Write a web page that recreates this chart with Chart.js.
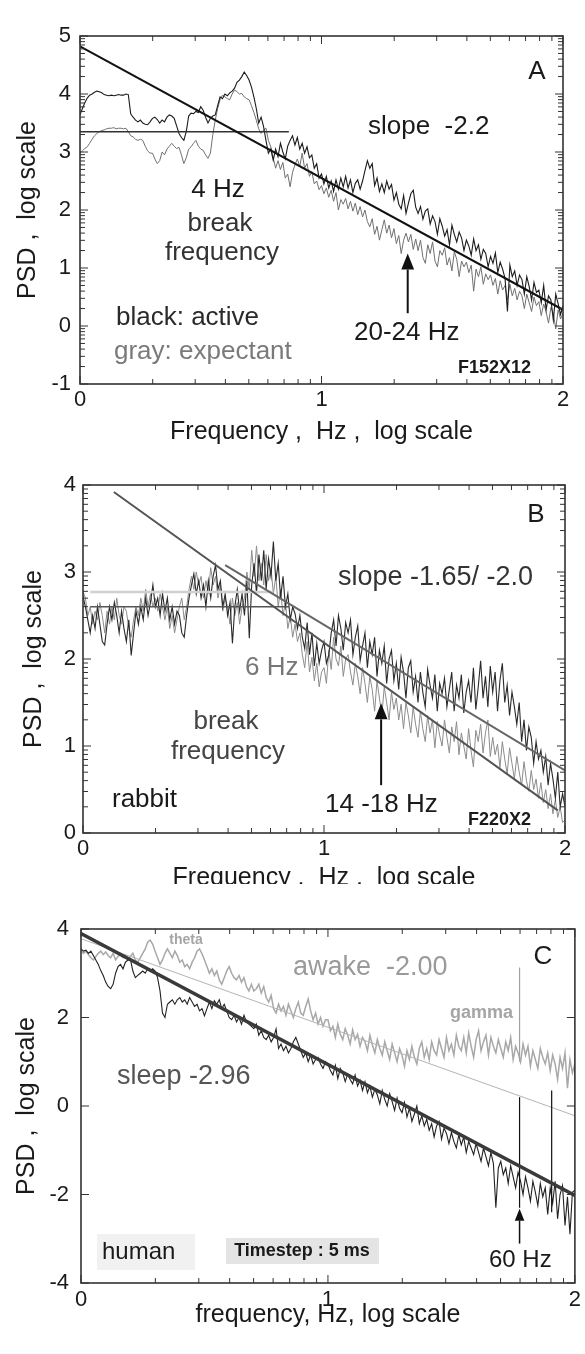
<!DOCTYPE html>
<html>
<head>
<meta charset="utf-8">
<script src="https://cdn.jsdelivr.net/npm/chart.js@4.4.1/dist/chart.umd.min.js"></script>
<style>
  body { margin: 0; background: #fff; }
  #wrap { position: relative; width: 585px; height: 1354px; background: #fff; }
  canvas { position: absolute; left: 0; }
</style>
</head>
<body>
<div id="wrap">
  <canvas id="panelA" width="585" height="450" style="top:0"></canvas>
  <canvas id="panelB" width="585" height="450" style="top:450px"></canvas>
  <canvas id="panelC" width="585" height="454" style="top:900px"></canvas>
</div>
<script>
// frequency grid (log10 Hz), shared by all three panels
const freq = [
  0.00,0.01,0.02,0.03,0.04,0.05,0.06,0.07,0.08,0.09,
  0.10,0.11,0.12,0.13,0.14,0.15,0.16,0.17,0.18,0.19,
  0.20,0.21,0.22,0.23,0.24,0.25,0.26,0.27,0.28,0.29,
  0.30,0.31,0.32,0.33,0.34,0.35,0.36,0.37,0.38,0.39,
  0.40,0.41,0.42,0.43,0.44,0.45,0.46,0.47,0.48,0.49,
  0.50,0.51,0.52,0.53,0.54,0.55,0.56,0.57,0.58,0.59,
  0.60,0.61,0.62,0.63,0.64,0.65,0.66,0.67,0.68,0.69,
  0.70,0.71,0.72,0.73,0.74,0.75,0.76,0.77,0.78,0.79,
  0.80,0.81,0.82,0.83,0.84,0.85,0.86,0.87,0.88,0.89,
  0.90,0.91,0.92,0.93,0.94,0.95,0.96,0.97,0.98,0.99,
  1.00,1.01,1.02,1.03,1.04,1.05,1.06,1.07,1.08,1.09,
  1.10,1.11,1.12,1.13,1.14,1.15,1.16,1.17,1.18,1.19,
  1.20,1.21,1.22,1.23,1.24,1.25,1.26,1.27,1.28,1.29,
  1.30,1.31,1.32,1.33,1.34,1.35,1.36,1.37,1.38,1.39,
  1.40,1.41,1.42,1.43,1.44,1.45,1.46,1.47,1.48,1.49,
  1.50,1.51,1.52,1.53,1.54,1.55,1.56,1.57,1.58,1.59,
  1.60,1.61,1.62,1.63,1.64,1.65,1.66,1.67,1.68,1.69,
  1.70,1.71,1.72,1.73,1.74,1.75,1.76,1.77,1.78,1.79,
  1.80,1.81,1.82,1.83,1.84,1.85,1.86,1.87,1.88,1.89,
  1.90,1.91,1.92,1.93,1.94,1.95,1.96,1.97,1.98,1.99,
  2.00
];

// panel A - black: active, gray: expectant
const activeA = [
  3.64,3.75,3.85,3.93,3.98,4.00,4.03,4.05,4.04,4.02,
  3.99,3.98,3.97,3.98,3.97,3.98,3.99,3.98,3.98,4.00,
  3.99,3.66,3.60,3.55,3.52,3.55,3.50,3.48,3.47,3.52,
  3.58,3.60,3.56,3.50,3.55,3.52,3.60,3.64,3.62,3.58,
  3.45,3.32,3.25,3.20,3.35,3.62,3.67,3.66,3.70,3.68,
  3.78,3.72,3.60,3.50,3.58,3.62,3.64,3.80,3.95,3.92,
  4.00,3.97,4.02,4.05,4.10,4.20,4.24,4.30,4.38,4.32,
  4.24,4.12,3.95,3.75,3.50,3.60,3.44,3.20,2.98,3.05,
  2.86,3.05,2.92,3.15,3.00,2.88,3.10,3.20,3.28,3.12,
  3.25,3.05,3.15,2.98,3.09,2.90,2.95,2.72,2.80,2.55,
  2.62,2.45,2.58,2.38,2.50,2.32,2.52,2.36,2.55,2.40,
  2.58,2.38,2.52,2.30,2.46,2.52,2.36,2.50,2.68,2.85,
  2.72,2.80,2.42,2.55,2.32,2.45,2.30,2.50,2.36,2.44,
  2.17,2.30,2.10,2.02,2.25,1.94,2.12,2.28,2.34,2.05,
  1.94,2.06,1.84,1.98,2.02,1.76,1.90,1.80,1.58,1.85,
  1.72,1.55,1.66,1.40,1.74,1.58,1.45,1.62,1.52,1.30,
  1.48,1.38,1.22,1.50,1.30,1.40,1.15,1.32,1.25,1.02,
  1.20,1.08,1.26,0.92,1.10,0.98,0.82,0.25,1.05,0.85,
  0.95,0.70,0.88,0.80,0.55,0.85,0.68,0.45,0.75,0.58,
  0.62,0.40,0.70,0.28,0.52,0.45,0.10,0.55,0.38,0.20,
  0.35
];
const expectantA = [
  2.98,3.02,3.06,3.09,3.15,3.22,3.28,3.32,3.35,3.37,
  3.38,3.40,3.41,3.41,3.42,3.40,3.41,3.41,3.40,3.41,
  3.35,3.28,3.26,3.22,3.20,3.22,3.20,3.10,3.02,2.98,
  2.98,2.88,2.80,2.85,3.00,2.95,3.05,3.10,3.15,3.10,
  3.06,3.08,2.95,2.80,2.90,3.05,3.09,3.15,3.20,3.10,
  3.05,3.03,2.95,2.89,2.98,3.30,3.55,3.75,3.90,3.98,
  3.95,3.92,3.90,4.00,4.07,4.04,4.00,4.01,3.95,3.92,
  3.90,3.80,3.68,3.55,3.40,3.32,3.38,3.41,3.20,3.09,
  2.90,2.72,2.85,2.70,2.82,2.55,2.62,2.40,2.65,2.78,
  2.88,2.75,2.98,2.72,2.80,2.58,2.66,2.45,2.50,2.35,
  2.42,2.28,2.38,2.22,2.34,2.15,2.30,2.00,2.18,2.10,
  2.20,2.02,2.15,1.98,2.12,1.92,2.06,1.88,2.00,1.80,
  1.71,1.85,1.58,1.72,1.48,1.66,1.83,1.60,1.74,1.52,
  1.68,1.42,1.56,1.25,1.48,1.60,1.45,1.58,1.32,1.50,
  1.30,1.48,1.18,1.08,1.40,1.25,1.45,1.12,1.02,1.30,
  1.22,1.35,1.05,1.18,0.95,1.28,1.15,0.85,1.12,1.02,
  1.10,0.92,1.05,0.60,0.98,0.85,1.02,0.72,0.90,0.80,
  0.88,0.70,0.82,0.55,0.78,0.62,0.70,0.45,0.72,0.52,
  0.65,0.45,0.60,0.52,0.30,0.55,0.40,0.25,0.50,0.35,
  0.42,0.18,0.38,0.25,0.05,0.32,0.22,-0.05,0.28,0.12,
  0.22
];
const fitAx = [0, 2];
const fitAy = [4.82, 0.28];
const breakAx = [0, 0.865];
const breakAy = [3.35, 3.35];

// panel B - rabbit
const darkB = [
  2.72,2.60,2.45,2.30,2.50,2.35,2.60,2.40,2.20,2.16,
  2.40,2.60,2.45,2.65,2.50,2.30,2.55,2.35,2.20,2.45,
  2.04,2.30,2.55,2.40,2.60,2.45,2.70,2.50,2.65,2.85,
  2.60,2.70,2.50,2.75,2.55,2.70,2.45,2.60,2.40,2.55,
  2.50,2.30,2.25,2.50,2.70,2.85,2.98,2.75,2.90,2.70,
  2.85,2.60,2.90,2.70,2.95,3.08,2.80,2.90,2.60,2.75,
  2.50,2.65,2.18,2.60,2.80,2.55,2.75,2.50,2.90,2.24,
  2.85,3.10,2.75,3.20,2.90,3.25,2.80,3.15,2.95,3.35,
  2.90,3.10,2.70,2.95,2.60,2.75,2.45,2.60,2.52,2.35,
  2.50,2.25,2.12,2.42,2.05,2.30,1.92,2.18,1.95,2.10,
  2.20,1.95,2.05,2.30,2.45,2.15,2.50,2.35,2.10,2.42,
  2.30,2.45,2.05,2.25,2.38,1.98,2.15,2.30,1.90,2.20,
  2.05,2.25,1.80,2.10,1.95,2.15,1.72,2.00,2.10,1.75,
  1.95,1.65,2.02,1.85,1.55,1.90,1.98,1.62,1.80,1.50,
  1.85,1.62,1.45,1.88,1.70,1.55,1.82,1.40,1.72,1.60,
  1.78,1.45,1.65,1.85,1.40,1.70,1.55,1.82,1.38,1.62,
  1.75,1.50,1.90,1.42,1.68,1.98,1.55,1.80,1.45,1.92,
  1.62,1.85,1.40,1.75,1.95,1.50,1.70,1.35,1.62,1.45,
  1.25,1.50,1.05,1.30,0.95,1.22,1.10,0.80,1.05,0.85,
  0.95,0.70,0.88,0.55,0.80,0.62,0.40,0.70,0.30,0.45,
  0.30
];
const grayB = [
  2.78,2.70,2.50,2.60,2.40,2.55,2.45,2.65,2.50,2.30,
  2.55,2.40,2.60,2.45,2.70,2.50,2.40,2.60,2.55,2.35,
  2.25,2.45,2.60,2.50,2.70,2.55,2.80,2.60,2.75,2.60,
  2.70,2.55,2.75,2.60,2.45,2.60,2.35,2.50,2.30,2.45,
  2.60,2.70,2.45,2.60,2.80,2.95,2.80,3.00,2.85,2.95,
  2.70,2.90,2.75,3.05,2.85,2.95,2.70,2.85,2.55,2.70,
  2.60,2.40,2.70,2.50,2.65,2.40,2.60,2.70,3.00,2.80,
  3.25,2.95,3.30,2.90,3.10,2.85,3.20,2.90,3.05,2.75,
  2.95,2.60,2.80,2.50,2.65,2.35,2.50,2.25,2.40,2.20,
  2.30,2.05,1.90,2.20,1.85,2.02,1.75,1.95,1.68,1.85,
  1.90,1.72,2.10,1.88,2.25,2.00,1.92,2.15,1.80,2.00,
  2.05,1.85,1.70,1.95,1.80,1.60,1.90,1.72,1.50,1.80,
  1.65,1.40,1.75,1.55,1.35,1.68,1.50,1.30,1.62,1.42,
  1.55,1.30,1.48,1.20,1.50,1.35,1.15,1.45,1.25,1.10,
  1.40,1.20,1.05,1.35,1.15,1.30,0.98,1.28,1.12,1.00,
  1.30,1.10,0.92,1.22,1.05,1.28,0.90,1.15,1.00,0.85,
  1.20,0.95,0.76,1.18,1.05,1.25,0.92,1.15,1.30,0.88,
  1.10,0.90,1.02,0.75,1.05,0.85,0.68,0.98,0.80,0.62,
  0.88,0.70,0.55,0.82,0.60,0.48,0.72,0.50,0.62,0.40,
  0.58,0.35,0.50,0.28,0.45,0.22,0.38,0.18,0.30,0.12,
  0.15
];
const steepBx = [0.128, 1.97];
const steepBy = [3.92, 0.26];
const shallowBx = [0.59, 2.0];
const shallowBy = [3.08, 0.72];
const breakBx = [0.03, 0.855];
const breakBy = [2.6, 2.6];
const faintBx = [0.03, 0.79];
const faintBy = [2.77, 2.77];

// panel C - human, awake vs sleep
const awakeC = [
  3.51,3.45,3.50,3.42,3.35,3.30,3.38,3.45,3.50,3.42,
  3.48,3.40,3.35,3.45,3.30,3.38,3.42,3.35,3.40,3.30,
  3.38,3.45,3.30,3.25,3.35,3.45,3.55,3.70,3.75,3.66,
  3.50,3.35,3.20,3.30,3.45,3.55,3.45,3.35,3.50,3.40,
  3.25,3.30,3.15,3.20,3.10,3.25,3.35,3.50,3.55,3.44,
  3.30,3.15,3.00,3.10,2.95,3.05,2.85,2.75,2.90,3.05,
  3.15,3.00,2.90,2.85,2.95,2.80,2.90,2.70,2.60,2.75,
  2.60,2.65,2.75,2.55,2.70,2.45,2.35,2.50,2.20,2.10,
  2.30,2.15,2.25,2.05,2.30,2.15,2.00,2.20,2.35,2.10,
  2.05,2.25,2.42,2.15,1.95,2.10,1.85,2.00,1.80,1.95,
  1.95,1.70,1.80,1.55,1.85,1.62,1.50,1.75,1.60,1.40,
  1.72,1.50,1.62,1.35,1.55,1.45,1.25,1.60,1.38,1.20,
  1.50,1.30,1.15,1.45,1.25,1.05,1.40,1.20,1.00,1.30,
  1.15,0.90,1.25,1.05,1.35,1.10,0.95,1.30,1.45,1.10,
  1.30,1.05,1.45,1.25,1.15,1.50,1.30,1.10,1.55,1.25,
  1.40,1.15,1.60,1.35,1.25,1.55,1.20,1.65,1.35,1.10,
  1.50,1.70,1.25,1.45,1.60,1.15,1.55,1.35,1.20,1.50,
  1.30,1.10,1.45,1.25,1.55,1.05,1.35,1.20,1.00,1.40,
  1.15,1.35,0.90,1.25,1.05,0.85,1.30,1.10,0.95,1.20,
  0.80,1.15,0.95,0.60,1.10,0.85,1.20,0.40,1.05,0.75,
  0.95
];
const sleepC = [
  3.55,3.50,3.52,3.45,3.50,3.40,3.30,3.20,3.06,2.95,
  2.80,2.70,2.65,2.75,3.00,3.15,3.20,3.10,3.25,3.30,
  3.32,3.05,2.90,2.95,3.00,3.05,3.00,3.10,3.05,3.10,
  3.05,2.90,2.60,2.10,2.00,2.30,2.35,2.40,2.30,2.40,
  2.45,2.35,2.40,2.30,2.45,2.35,2.25,2.30,2.15,2.20,
  2.04,2.20,2.35,2.20,2.38,2.30,2.40,2.20,2.30,2.15,
  2.00,1.95,2.05,1.90,2.00,1.85,2.05,1.90,1.85,1.80,
  1.75,1.85,1.60,1.70,1.55,1.50,1.60,1.45,1.55,1.74,
  1.30,1.40,1.25,1.35,1.20,1.30,1.45,1.55,1.40,1.25,
  1.10,1.20,1.00,1.15,0.95,1.05,1.10,0.95,0.85,1.00,
  0.95,0.80,0.70,0.92,0.62,0.85,0.75,0.55,0.72,0.60,
  0.50,0.70,0.45,0.58,0.35,0.55,0.30,0.45,0.20,0.38,
  0.25,0.05,0.35,0.15,0.00,0.28,0.10,-0.10,0.18,-0.05,
  -0.15,0.08,-0.25,-0.05,-0.35,-0.18,0.00,-0.40,-0.22,-0.45,
  -0.30,-0.55,-0.40,-0.70,-0.45,-0.35,-0.75,-0.50,-0.62,-0.85,
  -0.60,-0.80,-0.95,-0.65,-0.88,-0.70,-1.05,-0.80,-0.95,-1.10,
  -0.85,-1.05,-1.25,-0.95,-1.15,-1.35,-1.05,-1.30,-2.30,-1.40,
  -1.25,-1.55,-1.40,-1.75,-1.35,-1.60,-1.85,-1.50,-1.70,-2.00,
  -1.60,-1.85,-2.15,-1.70,-1.95,-2.25,-1.75,-2.05,-1.85,-2.45,
  -1.85,-2.20,-1.70,-2.55,-2.00,-1.80,-2.70,-2.05,-2.90,-1.95,
  -1.90
];
const sleepFitX = [0, 2];
const sleepFitY = [3.9, -2.02];
const awakeFitX = [0, 2];
const awakeFitY = [3.78, -0.22];
const gammaSpikeX = [1.776, 1.776];
const gammaSpikeY = [1.0, 3.13];
const lineSpikeX = [1.776, 1.776];
const lineSpikeY = [-2.3, 0.2];
const lineSpike2X = [1.906, 1.906];
const lineSpike2Y = [-2.4, 0.35];

// log-decade subdivisions used for the inner tick marks
const logSteps = [0.301, 0.477, 0.602, 0.699, 0.778, 0.845, 0.903, 0.954];

const FONT = "'Liberation Sans', Arial, sans-serif";

function pts(xs, ys) {
  return xs.map(function(v, i) { return {x: v, y: ys[i]}; });
}
function series(xs, ys, color, width) {
  return {data: pts(xs, ys), borderColor: color, borderWidth: width, pointRadius: 0, fill: false, tension: 0};
}

// box frame + inward ticks on four sides
const frameTicks = {
  id: 'frameTicks',
  afterDatasetsDraw(chart, args, opts) {
    const ctx = chart.ctx;
    const a = chart.chartArea;
    const sx = chart.scales.x, sy = chart.scales.y;
    ctx.save();
    ctx.strokeStyle = '#333';
    ctx.lineWidth = 1;
    (opts.xTicks || []).forEach(function(t) {
      const px = sx.getPixelForValue(t.v);
      ctx.beginPath();
      ctx.moveTo(px, a.bottom); ctx.lineTo(px, a.bottom - t.len);
      ctx.moveTo(px, a.top); ctx.lineTo(px, a.top + t.len);
      ctx.stroke();
    });
    (opts.yTicks || []).forEach(function(t) {
      const py = sy.getPixelForValue(t.v);
      ctx.beginPath();
      ctx.moveTo(a.left, py); ctx.lineTo(a.left + t.len, py);
      ctx.moveTo(a.right, py); ctx.lineTo(a.right - t.len, py);
      ctx.stroke();
    });
    ctx.lineWidth = 1.6;
    ctx.strokeRect(a.left, a.top, a.right - a.left, a.bottom - a.top);
    ctx.restore();
  }
};

// text labels, arrows and boxes
const notes = {
  id: 'notes',
  afterDraw(chart, args, opts) {
    const ctx = chart.ctx;
    const sx = chart.scales.x, sy = chart.scales.y;
    ctx.save();
    (opts.boxes || []).forEach(function(b) {
      ctx.fillStyle = b.color;
      ctx.fillRect(b.x, b.y, b.w, b.h);
    });
    (opts.texts || []).forEach(function(t) {
      ctx.font = t.font;
      ctx.fillStyle = t.color || '#1a1a1a';
      ctx.textAlign = t.align || 'left';
      ctx.textBaseline = 'middle';
      ctx.fillText(t.text, t.x, t.y);
    });
    (opts.arrows || []).forEach(function(ar) {
      const px = sx.getPixelForValue(ar.x);
      const y0 = sy.getPixelForValue(ar.from);
      const y1 = sy.getPixelForValue(ar.to);
      ctx.strokeStyle = '#111';
      ctx.fillStyle = '#111';
      ctx.lineWidth = ar.w || 2;
      ctx.beginPath();
      ctx.moveTo(px, y0); ctx.lineTo(px, y1 + ar.head);
      ctx.stroke();
      ctx.beginPath();
      ctx.moveTo(px, y1);
      ctx.lineTo(px - ar.head * 0.4, y1 + ar.head);
      ctx.lineTo(px + ar.head * 0.4, y1 + ar.head);
      ctx.closePath();
      ctx.fill();
    });
    ctx.restore();
  }
};

function tickList(lo, hi, withMinor, majorLen, minorLen, step) {
  let out = [];
  for (let v = lo; v <= hi; v += step) {
    out.push({v: v, len: majorLen});
    if (withMinor && v < hi) {
      logSteps.forEach(function(s) { out.push({v: v + s, len: minorLen}); });
    }
  }
  return out;
}

function makeChart(id, cfg) {
  return new Chart(document.getElementById(id), {
    type: 'line',
    data: {datasets: cfg.datasets},
    options: {
      responsive: false,
      animation: false,
      devicePixelRatio: 1,
      layout: {padding: {left: 0, top: cfg.top, right: cfg.right, bottom: 0}},
      plugins: {
        legend: {display: false},
        tooltip: {enabled: false},
        frameTicks: {xTicks: tickList(0, 2, true, 8, 5, 1), yTicks: cfg.yTicks},
        notes: cfg.notes
      },
      scales: {
        x: {
          type: 'linear', min: 0, max: 2,
          afterFit: function(s) { s.height = cfg.xHeight; },
          grid: {display: false, drawTicks: false},
          border: {display: false},
          ticks: {stepSize: 1, padding: cfg.xTickPad, color: '#1a1a1a', font: {family: FONT, size: 22}},
          title: {display: true, text: cfg.xTitle, color: '#1a1a1a', font: {family: FONT, size: 25}, padding: {top: 0, bottom: cfg.xTitlePad}}
        },
        y: {
          type: 'linear', min: cfg.yMin, max: cfg.yMax,
          afterFit: function(s) { s.width = cfg.yWidth; },
          grid: {display: false, drawTicks: false},
          border: {display: false},
          ticks: {stepSize: cfg.yStep, padding: cfg.yTickPad, color: '#1a1a1a', font: {family: FONT, size: 22}},
          title: {display: true, text: 'PSD ,  log scale', color: '#1a1a1a', font: {family: FONT, size: 25}, padding: {top: cfg.yTitlePad, bottom: 0}}
        }
      }
    },
    plugins: [frameTicks, notes]
  });
}

const big = '26px ' + FONT;

makeChart('panelA', {
  top: 36, right: 22, xHeight: 66, yWidth: 80,
  xTickPad: 3, xTitlePad: 3, yTickPad: 9, yTitlePad: 13,
  xTitle: 'Frequency ,  Hz ,  log scale',
  yMin: -1, yMax: 5, yStep: 1,
  yTicks: tickList(-1, 5, true, 8, 5, 1),
  datasets: [
    series(fitAx, fitAy, '#111', 2),
    series(breakAx, breakAy, '#333', 1.5),
    series(freq, activeA, '#1c1c1c', 1.1),
    series(freq, expectantA, '#707070', 1)
  ],
  notes: {
    texts: [
      {text: 'A', x: 537, y: 72, font: big, align: 'center'},
      {text: 'slope  -2.2', x: 368, y: 127, font: big},
      {text: '4 Hz', x: 218, y: 190, font: big, align: 'center'},
      {text: 'break', x: 220, y: 224, font: big, align: 'center', color: '#333'},
      {text: 'frequency', x: 222, y: 253, font: big, align: 'center', color: '#333'},
      {text: 'black: active', x: 116, y: 318, font: big, color: '#2a2a2a'},
      {text: 'gray: expectant', x: 114, y: 352, font: big, color: '#7a7a7a'},
      {text: '20-24 Hz', x: 354, y: 333, font: big},
      {text: 'F152X12', x: 458, y: 368, font: 'bold 18px ' + FONT}
    ],
    arrows: [{x: 1.357, from: 0.22, to: 1.25, head: 16}]
  }
});

makeChart('panelB', {
  top: 35, right: 20, xHeight: 67, yWidth: 83,
  xTickPad: 3, xTitlePad: 7, yTickPad: 7, yTitlePad: 19,
  xTitle: 'Frequency ,  Hz ,  log scale',
  yMin: 0, yMax: 4, yStep: 1,
  yTicks: tickList(0, 4, true, 8, 5, 1),
  datasets: [
    series(steepBx, steepBy, '#555', 2),
    series(shallowBx, shallowBy, '#666', 2),
    series(breakBx, breakBy, '#555', 1.6),
    series(faintBx, faintBy, '#d0d0d0', 2.5),
    series(freq, darkB, '#2a2a2a', 1.1),
    series(freq, grayB, '#8c8c8c', 1)
  ],
  notes: {
    boxes: [{x: 0, y: 434, w: 585, h: 16, color: '#fff'}],
    texts: [
      {text: 'B', x: 536, y: 65, font: big, align: 'center'},
      {text: 'slope -1.65/ -2.0', x: 338, y: 128, font: '27px ' + FONT, color: '#333'},
      {text: '6 Hz', x: 245, y: 218, font: big, color: '#777'},
      {text: 'break', x: 226, y: 272, font: big, align: 'center', color: '#444'},
      {text: 'frequency', x: 228, y: 302, font: big, align: 'center', color: '#444'},
      {text: 'rabbit', x: 112, y: 350, font: big},
      {text: '14 -18 Hz', x: 325, y: 355, font: big},
      {text: 'F220X2', x: 468, y: 370, font: 'bold 18px ' + FONT}
    ],
    arrows: [{x: 1.237, from: 0.55, to: 1.49, head: 16}]
  }
});

makeChart('panelC', {
  top: 29, right: 10, xHeight: 71, yWidth: 81,
  xTickPad: 4, xTitlePad: 24, yTickPad: 12, yTitlePad: 12,
  xTitle: 'frequency, Hz, log scale',
  yMin: -4, yMax: 4, yStep: 2,
  yTicks: tickList(-4, 4, false, 8, 5, 2),
  datasets: [
    series(sleepFitX, sleepFitY, '#3a3a3a', 3.5),
    series(lineSpikeX, lineSpikeY, '#111', 1.2),
    series(lineSpike2X, lineSpike2Y, '#111', 1.2),
    series(freq, sleepC, '#222', 1.1),
    series(awakeFitX, awakeFitY, '#b4b4b4', 1),
    series(gammaSpikeX, gammaSpikeY, '#a0a0a0', 1.2),
    series(freq, awakeC, '#a8a8a8', 1.5)
  ],
  notes: {
    boxes: [
      {x: 97, y: 334, w: 98, h: 36, color: '#f1f1f1'},
      {x: 226, y: 338, w: 153, h: 26, color: '#e4e4e4'},
      {x: 525, y: 40, w: 40, h: 36, color: '#fff'}
    ],
    texts: [
      {text: 'theta', x: 186, y: 40, font: 'bold 14px ' + FONT, align: 'center', color: '#a5a5a5'},
      {text: 'awake  -2.00', x: 293, y: 68, font: '27px ' + FONT, color: '#9a9a9a'},
      {text: 'gamma', x: 450, y: 113, font: 'bold 18px ' + FONT, color: '#a5a5a5'},
      {text: 'C', x: 543, y: 57, font: big, align: 'center'},
      {text: 'sleep -2.96', x: 117, y: 177, font: '27px ' + FONT, color: '#555'},
      {text: 'human', x: 102, y: 352, font: '24px ' + FONT},
      {text: 'Timestep : 5 ms', x: 302, y: 351, font: 'bold 18px ' + FONT, align: 'center'},
      {text: '60 Hz', x: 489, y: 360, font: '24px ' + FONT}
    ],
    arrows: [{x: 1.776, from: -3.11, to: -2.32, head: 12, w: 1.5}]
  }
});
</script>
</body>
</html>
